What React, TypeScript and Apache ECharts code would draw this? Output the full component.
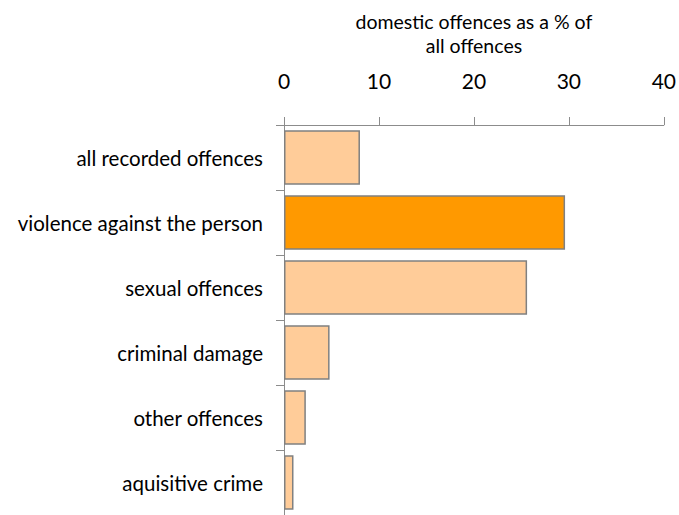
import React, { useEffect, useRef } from "react";
import * as echarts from "echarts";

const categories = [
  "all recorded offences",
  "violence against the person",
  "sexual offences",
  "criminal damage",
  "other offences",
  "aquisitive crime",
];
const values = [8.0, 29.6, 25.6, 4.8, 2.3, 1.0];
const highlighted = "violence against the person";
const axisTitle = "domestic offences as a % of\nall offences";

const FONT = "Lato, 'Open Sans', sans-serif";

export default function App() {
  const ref = useRef<HTMLDivElement>(null);
  useEffect(() => {
    if (!ref.current) return;
    const chart = echarts.init(ref.current, undefined, { renderer: "svg" });
    chart.setOption({
      animation: false,
      backgroundColor: "#ffffff",
      textStyle: { fontFamily: FONT },
      grid: { left: 284, right: 13, top: 125, bottom: 0, containLabel: false },
      xAxis: {
        type: "value",
        position: "top",
        min: 0,
        max: 40,
        interval: 10,
        name: axisTitle,
        nameLocation: "middle",
        nameGap: 68,
        nameTextStyle: { color: "#000", fontSize: 19.5, lineHeight: 24, fontFamily: FONT },
        axisLine: { show: true, lineStyle: { color: "#8c8c8c", width: 1 } },
        axisTick: { show: true, length: 8, lineStyle: { color: "#8c8c8c" } },
        axisLabel: { color: "#000", fontSize: 21, margin: 34, fontFamily: FONT },
        splitLine: { show: false },
      },
      yAxis: {
        type: "category",
        inverse: true,
        data: categories,
        axisLine: { show: true, lineStyle: { color: "#8c8c8c", width: 1 } },
        axisTick: { show: true, length: 8, lineStyle: { color: "#8c8c8c" } },
        axisLabel: { color: "#000", fontSize: 20.5, margin: 21, fontFamily: FONT },
      },
      series: [
        {
          type: "bar",
          data: values,
          barCategoryGap: "16%",
          itemStyle: {
            color: (p: any) => (categories[p.dataIndex] === highlighted ? "#ff9900" : "#ffcc99"),
            borderColor: "#808080",
            borderWidth: 1.5,
          },
        },
      ],
    });
    return () => chart.dispose();
  }, []);
  return <div ref={ref} style={{ width: 679, height: 515, position: "absolute", left: 0, top: 0 }} />;
}
